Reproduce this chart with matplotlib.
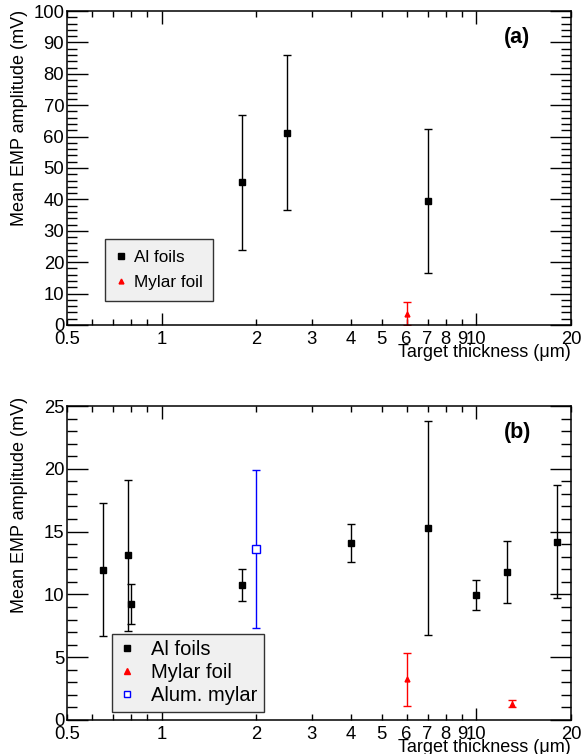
import numpy as np
import matplotlib
matplotlib.use('Agg')
import matplotlib.pyplot as plt
from matplotlib.lines import Line2D
from matplotlib.ticker import FixedLocator, FixedFormatter, NullFormatter

plt.rcParams['font.family'] = ['Liberation Sans', 'DejaVu Sans']

# Panel (a) data
a_al_x = [1.8, 2.5, 7.0]
a_al_y = [45.4, 61.3, 39.5]
a_al_err = [21.4, 24.7, 23.0]
a_my_x = [6.0]
a_my_y = [3.6]
a_my_err = [3.6]

# Panel (b) data
b_al_x = [0.65, 0.78, 0.80, 1.8, 4.0, 7.0, 10.0, 12.5, 18.0]
b_al_y = [11.95, 13.1, 9.25, 10.75, 14.1, 15.3, 9.95, 11.8, 14.2]
b_al_err = [5.3, 6.0, 1.6, 1.3, 1.5, 8.5, 1.2, 2.45, 4.5]
b_my_x = [6.0, 13.0]
b_my_y = [3.25, 1.3]
b_my_err = [2.1, 0.3]
b_am_x = [2.0]
b_am_y = [13.6]
b_am_err = [6.3]

xmin, xmax = 0.5, 20
major_x = [1, 10]
minor_x = [0.5, 0.6, 0.7, 0.8, 0.9, 2, 3, 4, 5, 6, 7, 8, 9, 20]
minor_lbl = ['0.5', '', '', '', '', '2', '3', '4', '5', '6', '7', '8', '9', '20']

fig = plt.figure(figsize=(5.81, 7.54), dpi=100)
ax1 = fig.add_axes([0.1153, 0.5690, 0.8675, 0.4164])
ax2 = fig.add_axes([0.1153, 0.0451, 0.8675, 0.4164])

fs = 13.3


def style_axes(ax, ymax, ymaj, ymin):
    ax.set_xscale('log')
    ax.set_xlim(xmin, xmax)
    ax.set_ylim(0, ymax)
    ax.xaxis.set_major_locator(FixedLocator(major_x))
    ax.xaxis.set_major_formatter(FixedFormatter(['1', '10']))
    ax.xaxis.set_minor_locator(FixedLocator(minor_x))
    ax.xaxis.set_minor_formatter(FixedFormatter(minor_lbl))
    ax.yaxis.set_major_locator(FixedLocator(np.arange(0, ymax + 0.01, ymaj)))
    ax.yaxis.set_minor_locator(FixedLocator(np.arange(0, ymax + 0.01, ymin)))
    ax.yaxis.set_minor_formatter(NullFormatter())
    ax.tick_params(axis='both', which='both', direction='in', top=True, right=True,
                   labelsize=fs, width=1, colors='black')
    ax.tick_params(axis='x', which='major', length=9, pad=4)
    ax.tick_params(axis='x', which='minor', length=4.5, pad=4)
    ax.tick_params(axis='y', which='major', length=15, pad=2)
    ax.tick_params(axis='y', which='minor', length=7.5, pad=2)
    for s in ax.spines.values():
        s.set_linewidth(1.1)
    ax.set_xlabel('Target thickness (\u03bcm)', loc='right', fontsize=13)
    ax.set_ylabel('Mean EMP amplitude (mV)', loc='top', fontsize=13)


def draw(ax, x, y, e, color, marker, ms, mfc):
    ax.errorbar(x, y, yerr=e, fmt=marker, color=color, ecolor=color,
                markersize=ms, markerfacecolor=mfc, markeredgecolor=color,
                markeredgewidth=1, elinewidth=1, capsize=2.6, capthick=1)


def proxy(color, marker, ms, mfc):
    # marker-only handle for the legend (no error bar)
    return Line2D([], [], linestyle='none', marker=marker, color=color,
                  markersize=ms, markerfacecolor=mfc, markeredgecolor=color,
                  markeredgewidth=1)


# Panel (a)
style_axes(ax1, 100, 10, 2)
draw(ax1, a_al_x, a_al_y, a_al_err, 'black', 's', 5, 'black')
draw(ax1, a_my_x, a_my_y, a_my_err, 'red', '^', 3.5, 'red')
ax1.text(0.893, 0.915, '(a)', transform=ax1.transAxes, fontsize=15.5,
         fontweight='bold', ha='center', va='center')
ax1.xaxis.set_label_coords(1.0, -0.062)
ax1.yaxis.set_label_coords(-0.077, 1.003)
leg1 = ax1.legend([proxy('black', 's', 4, 'black'), proxy('red', '^', 3.5, 'red')],
                  ['Al foils', 'Mylar foil'],
                  loc='lower left', bbox_to_anchor=(0.0754, 0.0764),
                  borderaxespad=0, fontsize=12.3, fancybox=False,
                  framealpha=1, facecolor='#f0f0f0', edgecolor='#333333',
                  handlelength=0.6, handletextpad=0.45, borderpad=0.62,
                  labelspacing=0.62)
leg1.get_frame().set_linewidth(1.0)

# Panel (b)
style_axes(ax2, 25, 5, 1)
draw(ax2, b_al_x, b_al_y, b_al_err, 'black', 's', 5, 'black')
draw(ax2, b_my_x, b_my_y, b_my_err, 'red', '^', 3.5, 'red')
draw(ax2, b_am_x, b_am_y, b_am_err, 'blue', 's', 5.5, 'white')
ax2.text(0.893, 0.915, '(b)', transform=ax2.transAxes, fontsize=15.5,
         fontweight='bold', ha='center', va='center')
ax2.xaxis.set_label_coords(1.0, -0.062)
ax2.yaxis.set_label_coords(-0.077, 1.03)
leg2 = ax2.legend([proxy('black', 's', 4.5, 'black'), proxy('red', '^', 4, 'red'),
                   proxy('blue', 's', 5, 'white')],
                  ['Al foils', 'Mylar foil', 'Alum. mylar'],
                  loc='lower left', bbox_to_anchor=(0.0893, 0.0255),
                  borderaxespad=0, fontsize=14.5, fancybox=False,
                  framealpha=1, facecolor='#f0f0f0', edgecolor='#333333',
                  handlelength=0.8, handletextpad=0.8, borderpad=0.33,
                  labelspacing=0.2)
leg2.get_frame().set_linewidth(1.0)

fig.savefig('out.png', dpi=100)
